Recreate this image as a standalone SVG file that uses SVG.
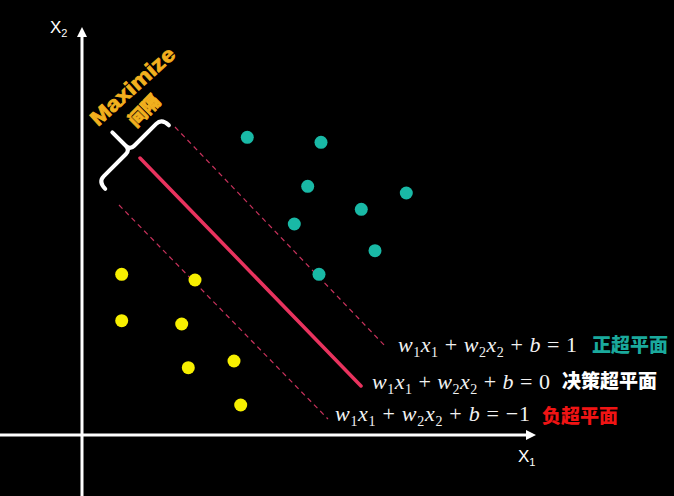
<svg xmlns="http://www.w3.org/2000/svg" width="674" height="496" viewBox="0 0 674 496">
<defs>
<style>
.axis{stroke:#fff;stroke-width:3;fill:none}
.ah{fill:#fff}
.dash{stroke:#c8325c;stroke-width:1.2;stroke-dasharray:5 4;fill:none}
.main{stroke:#e8335e;stroke-width:3.5;fill:none;stroke-linecap:round}
.pos{fill:#19b9a6}
.neg{fill:#f7ef00}
.eq{font-family:"Liberation Serif",serif;font-size:22px;fill:#f2f2f2}
.v{font-style:italic}
.sub{font-size:14px}
.cn{font-family:"Noto Sans CJK SC",sans-serif;font-weight:900;font-size:19px}
.ax{font-family:"Liberation Sans","DejaVu Sans",sans-serif;fill:#fff}
.gold{fill:#f2b01e;stroke:#f2b01e;stroke-width:0.8;font-weight:900}
</style>
</defs>
<rect width="674" height="496" fill="#000"/>
<g id="axes">
<line class="axis" x1="82" y1="496" x2="82" y2="36"/>
<polygon class="ah" points="82,27 77,37 87,37"/>
<line class="axis" x1="0" y1="435" x2="527" y2="435"/>
<polygon class="ah" points="536,435 526,430 526,440"/>
<text class="ax" x="50" y="33" font-size="17">X<tspan font-size="11" dy="4">2</tspan></text>
<text class="ax" x="518" y="462" font-size="17">X<tspan font-size="11" dy="4">1</tspan></text>
</g>
<g id="connectors">
<line class="dash" x1="175" y1="127" x2="386" y2="347"/>
<line class="main" x1="140" y1="158" x2="361" y2="386"/>
<line class="dash" x1="119" y1="205" x2="328" y2="419"/>
</g>
<g id="brace">
<path d="M45,-10 Q45,0 37,0 L6,0 Q0,0 0,6 L0,25 M-45,-10 Q-45,0 -37,0 L-6,0 Q0,0 0,6" transform="matrix(0.707,-0.707,-0.707,-0.707,130,150)" fill="none" stroke="#fff" stroke-width="4" stroke-linecap="round" stroke-linejoin="round"/>
</g>
<g id="maximize-label">
<text class="gold" font-family="'Liberation Sans','DejaVu Sans',sans-serif" font-size="21" transform="translate(98,127) rotate(-42)" textLength="106" lengthAdjust="spacingAndGlyphs">Maximize</text>
<text class="gold" font-family="'Noto Sans CJK SC',sans-serif" font-size="18" transform="translate(136,128) rotate(-45)">间隔</text>
</g>
<g id="positive-points">
<circle class="pos" cx="247.3" cy="137.3" r="6.5"/>
<circle class="pos" cx="321" cy="142.3" r="6.5"/>
<circle class="pos" cx="307.7" cy="186.3" r="6.5"/>
<circle class="pos" cx="406.3" cy="193" r="6.5"/>
<circle class="pos" cx="361.3" cy="209.3" r="6.5"/>
<circle class="pos" cx="294.3" cy="224" r="6.5"/>
<circle class="pos" cx="375" cy="250.7" r="6.5"/>
<circle class="pos" cx="319" cy="274.3" r="6.5"/>
</g>
<g id="negative-points">
<circle class="neg" cx="121.7" cy="274.3" r="6.5"/>
<circle class="neg" cx="195" cy="280" r="6.5"/>
<circle class="neg" cx="121.7" cy="320.7" r="6.5"/>
<circle class="neg" cx="181.7" cy="324" r="6.5"/>
<circle class="neg" cx="188.3" cy="367.7" r="6.5"/>
<circle class="neg" cx="234" cy="361" r="6.5"/>
<circle class="neg" cx="240.7" cy="405" r="6.5"/>
</g>
<g id="positive-hyperplane">
<text class="eq" x="398" y="352" textLength="179" lengthAdjust="spacing"><tspan class="v">w</tspan><tspan class="sub" dy="5">1</tspan><tspan class="v" dy="-5">x</tspan><tspan class="sub" dy="5">1</tspan><tspan dy="-5"> + </tspan><tspan class="v">w</tspan><tspan class="sub" dy="5">2</tspan><tspan class="v" dy="-5">x</tspan><tspan class="sub" dy="5">2</tspan><tspan dy="-5"> + </tspan><tspan class="v">b</tspan><tspan> = 1</tspan></text>
<text class="cn" x="592" y="352" fill="#1aa99c">正超平面</text>
</g>
<g id="decision-hyperplane">
<text class="eq" x="372" y="389" textLength="178" lengthAdjust="spacing"><tspan class="v">w</tspan><tspan class="sub" dy="5">1</tspan><tspan class="v" dy="-5">x</tspan><tspan class="sub" dy="5">1</tspan><tspan dy="-5"> + </tspan><tspan class="v">w</tspan><tspan class="sub" dy="5">2</tspan><tspan class="v" dy="-5">x</tspan><tspan class="sub" dy="5">2</tspan><tspan dy="-5"> + </tspan><tspan class="v">b</tspan><tspan> = 0</tspan></text>
<text class="cn" x="562" y="388" fill="#ffffff">决策超平面</text>
</g>
<g id="negative-hyperplane">
<text class="eq" x="335" y="421" textLength="195" lengthAdjust="spacing"><tspan class="v">w</tspan><tspan class="sub" dy="5">1</tspan><tspan class="v" dy="-5">x</tspan><tspan class="sub" dy="5">1</tspan><tspan dy="-5"> + </tspan><tspan class="v">w</tspan><tspan class="sub" dy="5">2</tspan><tspan class="v" dy="-5">x</tspan><tspan class="sub" dy="5">2</tspan><tspan dy="-5"> + </tspan><tspan class="v">b</tspan><tspan> = −1</tspan></text>
<text class="cn" x="542" y="423" fill="#f01414">负超平面</text>
</g>
</svg>
